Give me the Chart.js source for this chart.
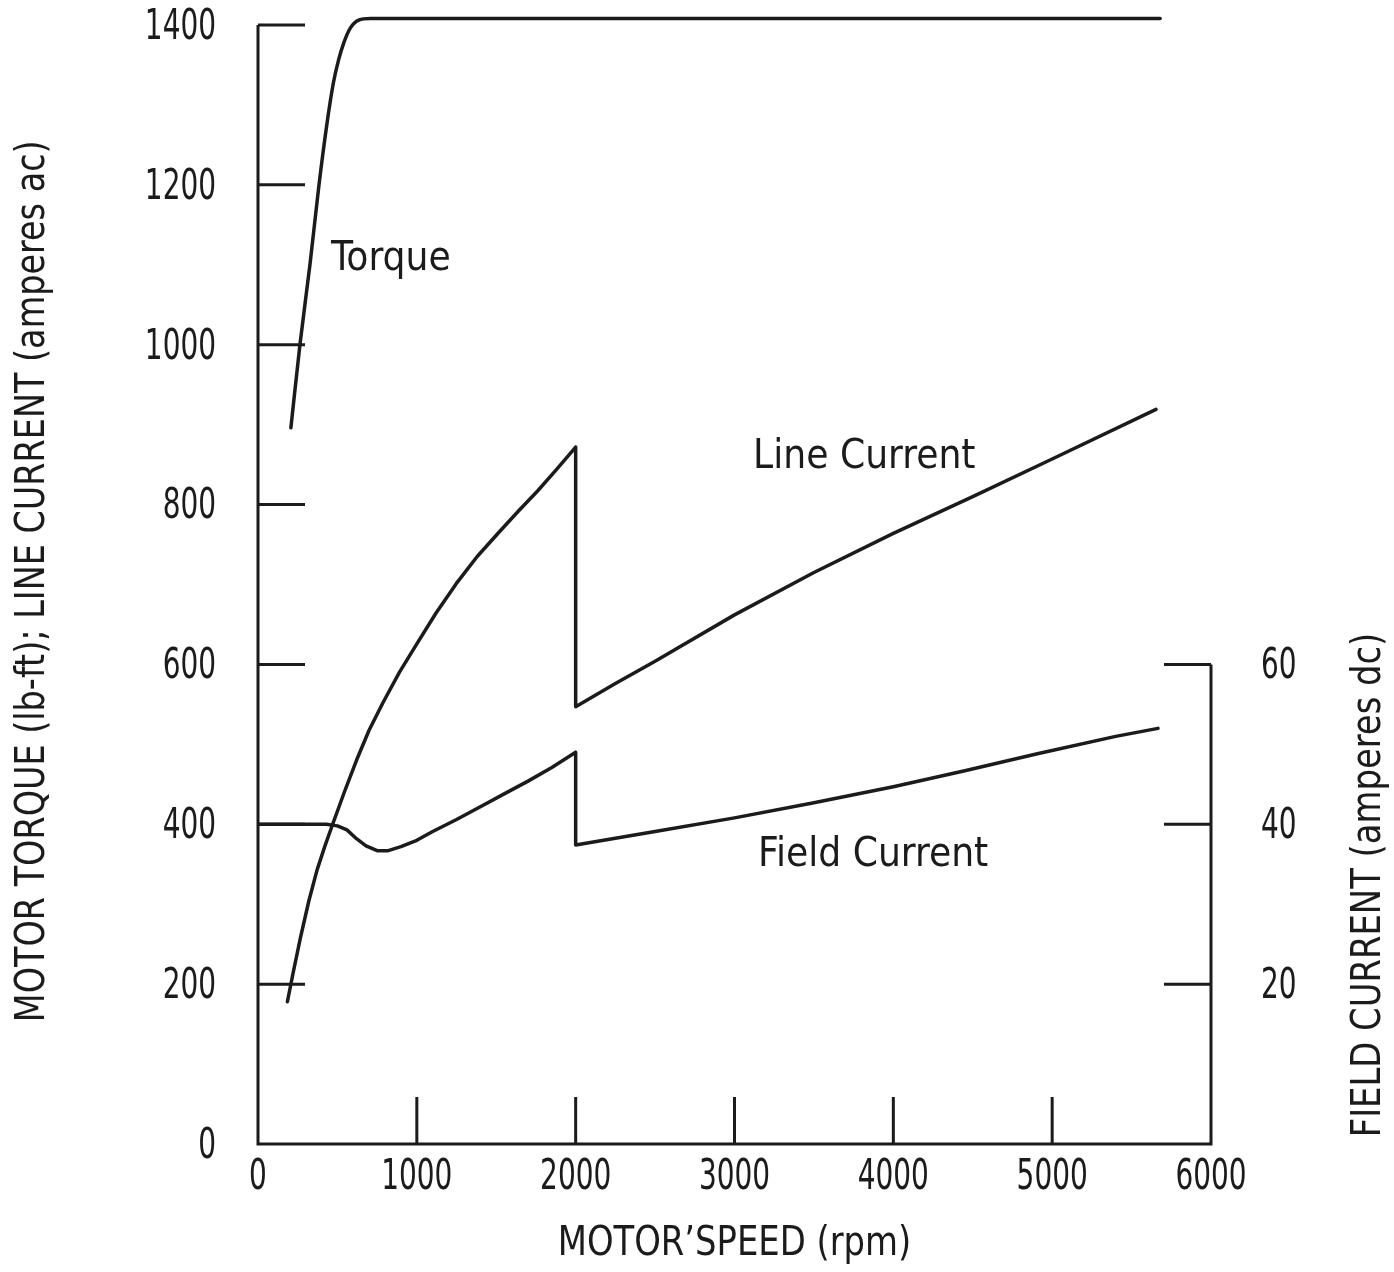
<!DOCTYPE html>
<html>
<head>
<meta charset="utf-8">
<script src="https://cdn.jsdelivr.net/npm/chart.js@4.4.0/dist/chart.umd.min.js"></script>
<style>
  html, body { margin: 0; padding: 0; background: #fff; }
  canvas { display: block; }
</style>
</head>
<body>
<canvas id="chart-area" width="1394" height="1272"></canvas>
<script>
// torque (lb-ft) against motor speed (rpm)
var torqueRpm = [207, 264, 327, 384, 433, 475, 507, 539, 581, 634, 708, 5680];
var torqueLbFt = [896, 1000, 1100, 1200, 1275, 1328, 1356, 1377, 1396, 1406, 1408, 1408];

// line current (amperes ac)
var lineRpm = [185, 220, 267, 320, 372, 420, 470, 545, 622, 700, 789, 890, 998, 1120, 1248, 1380, 1520, 1640, 1760, 1880, 2000,
               2000, 2250, 2500, 3000, 3500, 4000, 4500, 5000, 5654];
var lineAmps = [178, 213, 258, 304, 343, 372, 400, 441, 481, 518, 553, 590, 625, 664, 701, 735, 766, 792, 817, 844, 872,
                547, 576, 604, 662, 715, 764, 810, 857, 919];

// field current (amperes dc), right axis
var fieldRpm = [0, 430, 500, 560, 620, 680, 750, 820, 900, 1000, 1100, 1250, 1400, 1550, 1700, 1850, 2000,
                2000, 2500, 3000, 3500, 4000, 4450, 4900, 5400, 5666];
var fieldAmps = [40.0, 40.0, 39.8, 39.3, 38.2, 37.3, 36.7, 36.7, 37.2, 38.0, 39.1, 40.6, 42.2, 43.8, 45.4, 47.1, 49.0,
                 37.4, 39.1, 40.8, 42.7, 44.7, 46.7, 48.8, 51.0, 52.0];

var leftTicks = [0, 200, 400, 600, 800, 1000, 1200, 1400];
var rightTicks = [20, 40, 60];
var speedTicks = [0, 1000, 2000, 3000, 4000, 5000, 6000];

var leftTitle = 'MOTOR TORQUE (lb-ft); LINE CURRENT (amperes ac)';
var rightTitle = 'FIELD CURRENT (amperes dc)';
var bottomTitle = 'MOTOR\u2019SPEED (rpm)';

var INK = '#1b1b1b';
var FONT = "'DejaVu Sans Condensed', 'DejaVu Sans', sans-serif";

function pairs(xs, ys) {
    return xs.map(function (x, i) { return {x: x, y: ys[i]}; });
}

function fixBox(w, h) {
    return function (s) {
        if (w) s.width = w;
        if (h) s.height = h;
        s.paddingTop = s.paddingBottom = s.paddingLeft = s.paddingRight = 0;
    };
}

// curve captions, anchored in data units
var notes = [
    {text: 'Torque', rpm: 460, value: 1093},
    {text: 'Line Current', rpm: 3117, value: 846},
    {text: 'Field Current', rpm: 3148, value: 348}
];

// the scanned lettering is narrower than any installed face, so squeeze it
function squeezed(c, text, x, y, ratio) {
    c.fillText(text, x, y, c.measureText(text).width * ratio);
}

var frame = {
    id: 'frame',
    afterDatasetsDraw: function (chart) {
        var c = chart.ctx, x = chart.scales.x, y = chart.scales.y, y2 = chart.scales.y2;
        var area = chart.chartArea;
        var tick = 47;
        var x0 = x.getPixelForValue(0), x6 = x.getPixelForValue(6000), yb = y.getPixelForValue(0);
        c.save();
        c.letterSpacing = '0px';
        c.strokeStyle = INK;
        c.lineWidth = 3;
        c.lineJoin = 'miter';
        c.beginPath();
        c.moveTo(x0, y.getPixelForValue(1400));
        c.lineTo(x0, yb);
        c.lineTo(x6, yb);
        c.lineTo(x6, y2.getPixelForValue(60));
        c.stroke();
        c.beginPath();
        leftTicks.forEach(function (v) {
            if (v === 0) return;
            var py = y.getPixelForValue(v);
            c.moveTo(x0, py); c.lineTo(x0 + tick, py);
        });
        speedTicks.forEach(function (v) {
            if (v === 0 || v === 6000) return;
            var px = x.getPixelForValue(v);
            c.moveTo(px, yb); c.lineTo(px, yb - tick);
        });
        rightTicks.forEach(function (v) {
            var py = y2.getPixelForValue(v);
            c.moveTo(x6, py); c.lineTo(x6 - tick, py);
        });
        c.stroke();

        c.fillStyle = INK;
        c.textBaseline = 'middle';
        c.font = '42px ' + FONT;
        c.textAlign = 'right';
        leftTicks.forEach(function (v) {
            squeezed(c, String(v), x0 - 42, y.getPixelForValue(v) + 3, 0.74);
        });
        c.textAlign = 'left';
        rightTicks.forEach(function (v) {
            squeezed(c, String(v), x6 + 50, y2.getPixelForValue(v) + 3, 0.74);
        });
        c.textAlign = 'center';
        speedTicks.forEach(function (v) {
            squeezed(c, String(v), x.getPixelForValue(v), yb + 34, 0.74);
        });

        c.font = '41px ' + FONT;
        c.textAlign = 'left';
        c.textBaseline = 'alphabetic';
        notes.forEach(function (n) {
            squeezed(c, n.text, x.getPixelForValue(n.rpm), y.getPixelForValue(n.value), 0.98);
        });

        c.font = '40px ' + FONT;
        c.textAlign = 'center';
        c.textBaseline = 'middle';
        squeezed(c, bottomTitle, (area.left + area.right) / 2, 1245, 0.94);

        c.save();
        c.translate(34, y.getPixelForValue(704));
        c.rotate(-Math.PI / 2);
        squeezed(c, leftTitle, 0, 0, 0.93);
        c.restore();

        // right-hand title reads bottom to top like the left one
        c.translate(chart.width - 24, y2.getPixelForValue(32.4));
        c.rotate(-Math.PI / 2);
        squeezed(c, rightTitle, 0, 0, 0.94);
        c.restore();
    }
};

var config = {
    type: 'line',
    data: {
        datasets: [{
            label: 'Torque',
            data: pairs(torqueRpm, torqueLbFt),
            yAxisID: 'y',
            cubicInterpolationMode: 'monotone'
        }, {
            label: 'Line Current',
            data: pairs(lineRpm, lineAmps),
            yAxisID: 'y',
            tension: 0
        }, {
            label: 'Field Current',
            data: pairs(fieldRpm, fieldAmps),
            yAxisID: 'y2',
            tension: 0
        }]
    },
    options: {
        responsive: false,
        animation: false,
        layout: {padding: {top: 9, left: 0, right: 0, bottom: 0}},
        elements: {
            point: {radius: 0, hoverRadius: 0},
            line: {borderColor: INK, borderWidth: 3.5, borderCapStyle: 'round', borderJoinStyle: 'round', fill: false}
        },
        plugins: {legend: {display: false}, tooltip: {enabled: false}},
        scales: {
            x: {
                type: 'linear',
                position: 'bottom',
                min: 0,
                max: 6000,
                afterFit: fixBox(0, 128),
                grid: {display: false, drawTicks: false},
                border: {display: false},
                ticks: {display: false, stepSize: 1000}
            },
            y: {
                position: 'left',
                min: 0,
                max: 1420,
                afterFit: fixBox(258, 0),
                grid: {display: false, drawTicks: false},
                border: {display: false},
                ticks: {display: false, stepSize: 200}
            },
            y2: {
                position: 'right',
                min: 0,
                max: 142,
                afterFit: fixBox(183, 0),
                grid: {display: false, drawTicks: false},
                border: {display: false},
                ticks: {display: false, stepSize: 20}
            }
        }
    },
    plugins: [frame]
};

var ctx = document.getElementById('chart-area').getContext('2d');
var motorChart = new Chart(ctx, config);
</script>
</body>
</html>
